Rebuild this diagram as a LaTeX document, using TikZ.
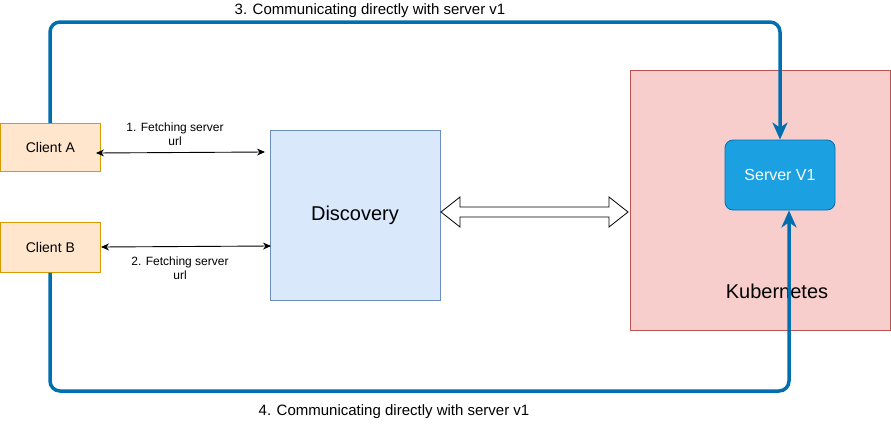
\documentclass[tikz,border=0pt]{standalone}
\usepackage{fontspec}
\setmainfont{Liberation Sans}
\usetikzlibrary{arrows.meta}
\definecolor{cfill}{HTML}{FFE6CC}
\definecolor{cdraw}{HTML}{D79B00}
\definecolor{dfill}{HTML}{DAE8FC}
\definecolor{ddraw}{HTML}{6C8EBF}
\definecolor{kfill}{HTML}{F8CECC}
\definecolor{kdraw}{HTML}{B85450}
\definecolor{sfill}{HTML}{1BA1E2}
\definecolor{sdraw}{HTML}{006EAF}
\definecolor{blueline}{HTML}{006EAF}
\tikzset{
  box/.style={draw, rectangle, inner sep=0pt, line width=0.8pt},
  client/.style={box, fill=cfill, draw=cdraw, minimum width=100pt, minimum height=48pt, font=\fontsize{14}{16}\selectfont},
  fetch/.style={line width=0.9pt, {Stealth[length=8pt,width=7pt]}-{Stealth[length=8pt,width=7pt]}},
  comm/.style={draw=blueline, line width=3.5pt, rounded corners=10pt, -{Stealth[length=17pt,width=15pt,inset=5pt]}},
  lbl/.style={font=\fontsize{12}{14}\selectfont, align=center, inner sep=0pt},
  biglbl/.style={font=\fontsize{15}{17}\selectfont, inner sep=0pt}
}
\begin{document}
\begin{tikzpicture}[x=1pt,y=-1pt]
\useasboundingbox (0,0) rectangle (891,423);
% Kubernetes
\node[box, fill=kfill, draw=kdraw, minimum width=260pt, minimum height=260pt, anchor=north west] (kube) at (630,70) {};
\node[font=\fontsize{20}{22}\selectfont, inner sep=0pt] (kubelbl) at (777,291) {Kubernetes};
% Server
\node[box, rounded corners=8pt, fill=sfill, draw=sdraw, minimum width=110pt, minimum height=70pt, text=white, font=\fontsize{16}{18}\selectfont] (server) at (780,175) {Server V1};
% Discovery
\node[box, fill=dfill, draw=ddraw, minimum width=170pt, minimum height=170pt, font=\fontsize{20}{22}\selectfont] (disc) at (355,215) {Discovery};
% Clients
\node[client, anchor=north west] (ca) at (0,123) {Client A};
\node[client, anchor=north west, minimum height=50pt] (cb) at (0,222) {Client B};
% fetch arrows
\coordinate (a1s) at (96,153);
\coordinate (a1e) at (265,152);
\draw[fetch] (a1s) -- (a1e);
\node[lbl] (l1) at (175,134) {1. Fetching server\\url};
\coordinate (a2s) at (101,247);
\coordinate (a2e) at (271,246);
\draw[fetch] (a2s) -- (a2e);
\node[lbl] (l2) at (180,268) {2. Fetching server\\url};
% big hollow double arrow
\draw[line width=0.8pt, fill=white, line join=miter] (441,212) -- (460,197) -- (460,207) -- (609,207) -- (609,197) -- (628,212) -- (609,227) -- (609,217) -- (460,217) -- (460,227) -- cycle;
% communication paths
\draw[comm] (ca.north -| 50,0) -- (50,22) -- (780,22) -- (server.north);
\node[biglbl] (l3) at (370,11) {3. Communicating directly with server v1};
\draw[comm] (cb.south -| 50,0) -- (50,391) -- (789,391) -- (server.south -| 789,0);
\node[biglbl] (l4) at (394,412) {4. Communicating directly with server v1};
\end{tikzpicture}
\end{document}
